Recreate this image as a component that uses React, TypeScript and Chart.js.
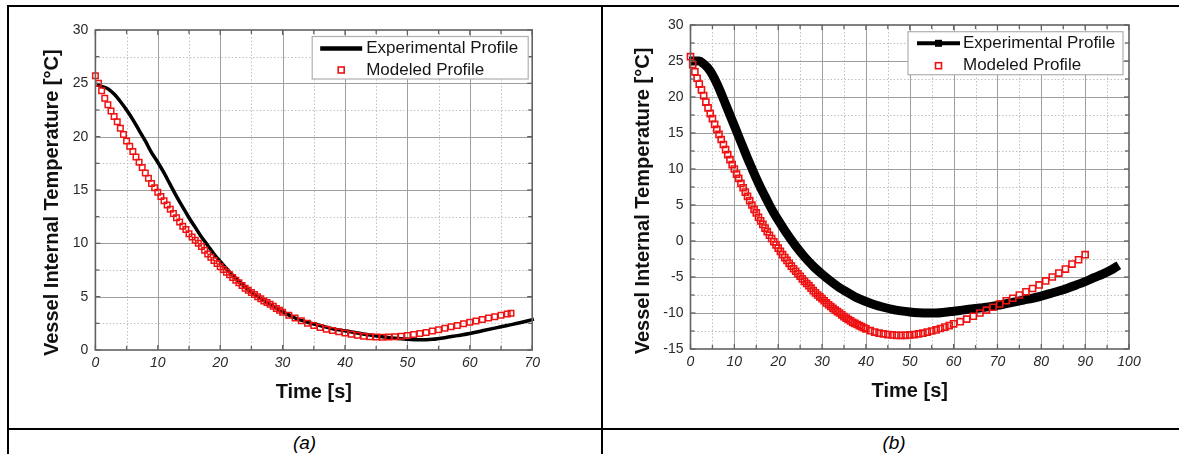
import React, { useEffect, useRef } from "react";
import { Chart, registerables } from "chart.js";

Chart.register(...registerables);

const FONT = "'Liberation Sans', Arial, Helvetica, sans-serif";
const RED = "#ee1212";

// ---------- Panel (a) ----------
const xTicksA = [0, 10, 20, 30, 40, 50, 60, 70];
const yTicksA = [0, 5, 10, 15, 20, 25, 30];

const expTimeA = [0.5, 2, 3, 4, 5, 6, 7, 8, 9, 10, 11, 12, 13, 14, 15, 16, 17, 18, 19, 20, 22, 24, 26, 28, 30, 32, 34, 36, 38, 40, 42, 44, 46, 48, 50, 52, 54, 56, 58, 60, 62, 64, 66, 68, 70];
const expTempA = [24.8, 24.5, 24.0, 23.3, 22.5, 21.6, 20.6, 19.6, 18.5, 17.6, 16.6, 15.5, 14.4, 13.4, 12.4, 11.5, 10.6, 9.8, 9.0, 8.3, 7.0, 5.9, 5.0, 4.3, 3.6, 3.0, 2.6, 2.3, 2.0, 1.8, 1.6, 1.4, 1.25, 1.1, 1.0, 0.95, 1.0, 1.15, 1.35, 1.55, 1.8, 2.05, 2.3, 2.55, 2.85];

const modTimeA = [0, 0.5, 1, 1.5, 2, 2.5, 3, 3.5, 4, 4.5, 5, 5.5, 6, 6.5, 7, 7.5, 8, 8.5, 9, 9.5, 10, 10.5, 11, 11.5, 12, 12.5, 13, 13.5, 14, 14.5, 15,
  15.5, 16, 16.5, 17, 17.5, 18, 18.5, 19, 19.5, 20, 20.5, 21, 21.5, 22, 22.5, 23, 23.5, 24, 24.5, 25, 25.5, 26, 26.5, 27, 27.5, 28, 28.5, 29, 29.5, 30,
  31, 32, 33, 34, 35, 36, 37, 38, 39, 40, 41, 42, 43, 44, 45, 46, 47, 48, 49, 50, 51, 52, 53, 54, 55, 56, 57, 58, 59, 60, 61, 62, 63, 64, 65, 66, 66.6];
const modTempA = [25.7, 25.0, 24.3, 23.6, 23.0, 22.4, 21.9, 21.4, 20.8, 20.2, 19.6, 19.1, 18.6, 18.1, 17.6, 17.1, 16.6, 16.1, 15.6, 15.2, 14.8, 14.4, 14.0, 13.6, 13.2, 12.8, 12.4, 12.0, 11.6, 11.3, 10.9,
  10.6, 10.3, 10.0, 9.7, 9.35, 9.0, 8.7, 8.4, 8.1, 7.8, 7.55, 7.3, 7.05, 6.8, 6.55, 6.3, 6.05, 5.8, 5.6, 5.4, 5.2, 5.0, 4.8, 4.6, 4.45, 4.3, 4.1, 3.9, 3.72, 3.55,
  3.25, 3.0, 2.75, 2.5, 2.3, 2.1, 1.95, 1.82, 1.7, 1.6, 1.48, 1.38, 1.3, 1.25, 1.22, 1.2, 1.22, 1.25, 1.3, 1.36, 1.45, 1.55, 1.65, 1.78, 1.9, 2.03, 2.17, 2.3, 2.45, 2.6, 2.72, 2.85, 3.0, 3.12, 3.25, 3.38, 3.45];

// ---------- Panel (b) ----------
const xTicksB = [0, 10, 20, 30, 40, 50, 60, 70, 80, 90, 100];
const yTicksB = [-15, -10, -5, 0, 5, 10, 15, 20, 25, 30];

const expTimeB = [0.7, 2, 3, 4, 5, 6, 7, 8, 9, 10, 11, 12, 13, 14, 15, 16, 17, 18, 19, 20, 22, 24, 26, 28, 30, 32, 34, 36, 38, 40, 42, 44, 46, 48, 50, 52, 54, 56, 58, 60, 62, 64, 66, 68, 70, 72, 74, 76, 78, 80, 82, 84, 86, 88, 90, 92, 94, 96, 96.8];
const expTempB = [25.0, 25.0, 24.6, 24.0, 23.1, 21.9, 20.5, 19.0, 17.5, 16.0, 14.5, 13.0, 11.5, 10.1, 8.7, 7.4, 6.2, 5.0, 3.9, 2.9, 1.0, -0.7, -2.2, -3.5, -4.6, -5.6, -6.5, -7.2, -7.9, -8.4, -8.85, -9.2, -9.5, -9.7, -9.85, -9.95, -10.0, -10.0, -9.9, -9.75, -9.6, -9.45, -9.3, -9.15, -8.95, -8.7, -8.45, -8.2, -7.95, -7.65, -7.3, -6.95, -6.55, -6.1, -5.65, -5.1, -4.6, -4.0, -3.7];

const modTimeB = [0, 0.5, 1, 1.5, 2, 2.5, 3, 3.5, 4, 4.5, 5, 5.5, 6, 6.5, 7, 7.5, 8, 8.5, 9, 9.5, 10, 10.5, 11, 11.5, 12, 12.5, 13, 13.5, 14, 14.5, 15, 15.5, 16, 16.5, 17, 17.5, 18, 18.5, 19, 19.5, 20,
  20.5, 21, 21.5, 22, 22.5, 23, 23.5, 24, 24.5, 25, 25.5, 26, 26.5, 27, 27.5, 28, 28.5, 29, 29.5, 30, 30.5, 31, 31.5, 32, 32.5, 33, 33.5, 34, 34.5, 35, 35.5, 36, 36.5, 37, 37.5, 38, 38.5, 39, 39.5, 40,
  41, 42, 43, 44, 45, 46, 47, 48, 49, 50, 51, 52, 53, 54, 55, 56, 57, 58, 59, 60,
  61.5, 63, 64.5, 66, 67.5, 69, 70.5, 72, 73.5, 75, 76.5, 78, 79.5, 81, 82.5, 84, 85.5, 87, 88.5, 90];
const modTempB = [25.6, 24.5, 23.5, 22.6, 21.8, 21.0, 20.2, 19.3, 18.5, 17.7, 17.0, 16.2, 15.5, 14.8, 14.1, 13.4, 12.7, 12.0, 11.3, 10.6, 10.0, 9.3, 8.7, 8.0, 7.4, 6.8, 6.2, 5.6, 5.0, 4.4, 3.9, 3.3, 2.8, 2.3, 1.8, 1.3, 0.8, 0.35, -0.1, -0.55, -1.0,
  -1.45, -1.9, -2.3, -2.7, -3.1, -3.5, -3.85, -4.2, -4.55, -4.9, -5.25, -5.6, -5.9, -6.2, -6.55, -6.9, -7.2, -7.5, -7.75, -8.0, -8.3, -8.6, -8.85, -9.1, -9.35, -9.6, -9.8, -10.0, -10.25, -10.5, -10.7, -10.9, -11.1, -11.3, -11.45, -11.6, -11.75, -11.9, -12.05, -12.2,
  -12.45, -12.65, -12.8, -12.9, -13.0, -13.05, -13.1, -13.1, -13.1, -13.05, -13.0, -12.9, -12.8, -12.65, -12.5, -12.35, -12.15, -11.95, -11.75, -11.5,
  -11.2, -10.85, -10.45, -10.0, -9.6, -9.2, -8.75, -8.3, -7.95, -7.5, -7.05, -6.6, -6.1, -5.55, -5.0, -4.45, -3.9, -3.2, -2.6, -1.9];

const seriesNames = ["Experimental Profile", "Modeled Profile"];
const xTitle = "Time [s]";
const yTitle = "Vessel Internal Temperature [°C]";

type PanelCfg = {
  left: number; top: number; width: number; height: number;
  padding: { left: number; right: number; top: number; bottom: number };
  xTicks: number[]; yTicks: number[];
  expTime: number[]; expTemp: number[]; modTime: number[]; modTemp: number[];
  expWidth: number; markerRadius: number; markerBorder: number;
  legendW: number; legendH: number; legendInsetRight: number; legendInsetTop: number;
  row1: number; row2: number; sampleX0: number; sampleX1: number; textX: number;
  legendLineWidth: number; legendMarker: boolean;
  yTitleDx: number; yTitleDy: number; yTickPad: number;
};

const toPts = (xs: number[], ys: number[]) => xs.map((x, i) => ({ x, y: ys[i] }));

function makeDecor(cfg: PanelCfg) {
  const line = (ctx: CanvasRenderingContext2D, x0: number, y0: number, x1: number, y1: number) => {
    ctx.beginPath(); ctx.moveTo(x0, y0); ctx.lineTo(x1, y1); ctx.stroke();
  };
  const minors = (vals: number[]) => vals.slice(1).map((v, i) => (v + vals[i]) / 2);
  return {
    id: "panelDecor",
    beforeDatasetsDraw(chart: any) {
      const { ctx, chartArea: ca } = chart;
      const xs = chart.scales.x, ys = chart.scales.y;
      const xv: number[] = xs.ticks.map((t: any) => t.value);
      const yv: number[] = ys.ticks.map((t: any) => t.value);
      ctx.save();
      ctx.lineWidth = 1;
      ctx.strokeStyle = "#c0c0c0";
      ctx.setLineDash([1.5, 2]);
      for (const v of minors(xv)) { const p = Math.round(xs.getPixelForValue(v)) + 0.5; line(ctx, p, ca.top, p, ca.bottom); }
      for (const v of minors(yv)) { const p = Math.round(ys.getPixelForValue(v)) + 0.5; line(ctx, ca.left, p, ca.right, p); }
      ctx.setLineDash([]);
      ctx.strokeStyle = "#9e9e9e";
      for (const v of xv.slice(1, -1)) { const p = Math.round(xs.getPixelForValue(v)) + 0.5; line(ctx, p, ca.top, p, ca.bottom); }
      for (const v of yv.slice(1, -1)) { const p = Math.round(ys.getPixelForValue(v)) + 0.5; line(ctx, ca.left, p, ca.right, p); }
      ctx.restore();
    },
    afterDatasetsDraw(chart: any) {
      const { ctx, chartArea: ca } = chart;
      const xs = chart.scales.x, ys = chart.scales.y;
      const xv: number[] = xs.ticks.map((t: any) => t.value);
      const yv: number[] = ys.ticks.map((t: any) => t.value);
      ctx.save();
      ctx.strokeStyle = "#626262";
      ctx.lineWidth = 1.6;
      ctx.strokeRect(ca.left, ca.top, ca.right - ca.left, ca.bottom - ca.top);
      ctx.lineWidth = 1.3;
      const tick = (vals: number[], len: number) => {
        for (const v of vals) {
          const px = xs.getPixelForValue(v);
          line(ctx, px, ca.bottom, px, ca.bottom - len);
          line(ctx, px, ca.top, px, ca.top + len);
        }
      };
      const tickY = (vals: number[], len: number) => {
        for (const v of vals) {
          const py = ys.getPixelForValue(v);
          line(ctx, ca.left, py, ca.left + len, py);
          line(ctx, ca.right, py, ca.right - len, py);
        }
      };
      tick(xv, 5); tick(minors(xv), 4);
      tickY(yv, 5); tickY(minors(yv), 4);

      const bx = ca.right - cfg.legendInsetRight - cfg.legendW;
      const by = ca.top + cfg.legendInsetTop;
      ctx.fillStyle = "#fff";
      ctx.fillRect(bx, by, cfg.legendW, cfg.legendH);
      ctx.strokeStyle = "#b0b0b0";
      ctx.lineWidth = 1.2;
      ctx.strokeRect(bx, by, cfg.legendW, cfg.legendH);
      const y1 = by + cfg.row1, y2 = by + cfg.row2;
      ctx.strokeStyle = "#000";
      ctx.lineWidth = cfg.legendLineWidth;
      line(ctx, bx + cfg.sampleX0, y1, bx + cfg.sampleX1, y1);
      const mx = bx + (cfg.sampleX0 + cfg.sampleX1) / 2;
      if (cfg.legendMarker) { ctx.fillStyle = "#000"; ctx.fillRect(mx - 3.5, y1 - 3.5, 7, 7); }
      ctx.strokeStyle = RED;
      ctx.lineWidth = 1.6;
      ctx.strokeRect(mx - 3, y2 - 3, 6, 6);
      ctx.fillStyle = "#161616";
      ctx.font = `17px ${FONT}`;
      ctx.textAlign = "left";
      ctx.textBaseline = "middle";
      ctx.fillText(chart.data.datasets[1].label, bx + cfg.textX, y1);
      ctx.fillText(chart.data.datasets[0].label, bx + cfg.textX, y2);

      ctx.fillStyle = "#111";
      ctx.font = `bold 20px ${FONT}`;
      ctx.textAlign = "center";
      ctx.fillText(xTitle, (ca.left + ca.right) / 2, ca.bottom + 42);
      ctx.translate(ca.left - cfg.yTitleDx, (ca.top + ca.bottom) / 2 + cfg.yTitleDy);
      ctx.rotate(-Math.PI / 2);
      ctx.fillText(yTitle, 0, 0);
      ctx.restore();
    },
  };
}

function Panel({ cfg }: { cfg: PanelCfg }) {
  const ref = useRef<HTMLCanvasElement>(null);
  useEffect(() => {
    if (!ref.current) return;
    const chart = new Chart(ref.current, {
      type: "scatter",
      data: {
        datasets: [
          {
            label: seriesNames[1],
            data: toPts(cfg.modTime, cfg.modTemp),
            showLine: false,
            pointStyle: "rect",
            pointRadius: cfg.markerRadius,
            pointBorderWidth: cfg.markerBorder,
            borderColor: RED,
            backgroundColor: "rgba(255,255,255,0)",
            clip: false,
          } as any,
          {
            label: seriesNames[0],
            data: toPts(cfg.expTime, cfg.expTemp),
            showLine: true,
            pointRadius: 0,
            borderColor: "#000",
            backgroundColor: "#000",
            borderWidth: cfg.expWidth,
            cubicInterpolationMode: "monotone",
            borderJoinStyle: "round",
            borderCapStyle: "square",
            clip: false,
          } as any,
        ],
      },
      options: {
        animation: false,
        responsive: false,
        devicePixelRatio: 1,
        layout: { padding: cfg.padding },
        plugins: { legend: { display: false }, tooltip: { enabled: false } },
        scales: {
          x: {
            type: "linear",
            min: cfg.xTicks[0],
            max: cfg.xTicks[cfg.xTicks.length - 1],
            afterBuildTicks: (s: any) => { s.ticks = cfg.xTicks.map((v) => ({ value: v })); },
            afterFit: (s: any) => { s.height = 50; },
            grid: { display: false, drawTicks: false },
            border: { display: false },
            ticks: { padding: 5, maxRotation: 0, autoSkip: false, color: "#2a2a2a", font: { family: FONT, size: 14, style: "italic" } },
          },
          y: {
            type: "linear",
            min: cfg.yTicks[0],
            max: cfg.yTicks[cfg.yTicks.length - 1],
            afterBuildTicks: (s: any) => { s.ticks = cfg.yTicks.map((v) => ({ value: v })); },
            afterFit: (s: any) => { s.width = 60; },
            grid: { display: false, drawTicks: false },
            border: { display: false },
            ticks: { padding: cfg.yTickPad, autoSkip: false, color: "#2a2a2a", font: { family: FONT, size: 14 } },
          },
        },
      } as any,
      plugins: [makeDecor(cfg)],
    });
    return () => chart.destroy();
  }, []);
  return (
    <canvas
      ref={ref}
      width={cfg.width}
      height={cfg.height}
      style={{ position: "absolute", left: cfg.left, top: cfg.top, width: cfg.width, height: cfg.height }}
    />
  );
}

const panelA: PanelCfg = {
  left: 9, top: 8, width: 591, height: 419,
  padding: { left: 26.4, right: 67.8, top: 22, bottom: 27 },
  xTicks: xTicksA, yTicks: yTicksA,
  expTime: expTimeA, expTemp: expTempA, modTime: modTimeA, modTemp: modTempA,
  expWidth: 3.5, markerRadius: 3.9, markerBorder: 1.5,
  legendW: 216, legendH: 42.5, legendInsetRight: 4, legendInsetTop: 6.5,
  row1: 12, row2: 33.5, sampleX0: 8, sampleX1: 50, textX: 54,
  legendLineWidth: 4.5, legendMarker: false,
  yTitleDx: 43, yTitleDy: 12.7, yTickPad: 7,
};

const panelB: PanelCfg = {
  left: 603, top: 8, width: 576, height: 419,
  padding: { left: 27.5, right: 50, top: 17, bottom: 28 },
  xTicks: xTicksB, yTicks: yTicksB,
  expTime: expTimeB, expTemp: expTempB, modTime: modTimeB, modTemp: modTempB,
  expWidth: 9, markerRadius: 4.3, markerBorder: 1.6,
  legendW: 215, legendH: 43, legendInsetRight: 6, legendInsetTop: 6.7,
  row1: 11.6, row2: 34, sampleX0: 9, sampleX1: 52, textX: 55,
  legendLineWidth: 4, legendMarker: true,
  yTitleDx: 47, yTitleDy: 14, yTickPad: 7,
};

const rule = (s: React.CSSProperties) => <div style={{ position: "absolute", background: "#000", ...s }} />;

export default function App() {
  return (
    <div style={{ position: "absolute", left: 0, top: 0, width: 1179, height: 454, background: "#fff", overflow: "hidden" }}>
      {rule({ left: 7, top: 5, width: 1172, height: 1.5 })}
      {rule({ left: 7, top: 5, width: 2, height: 449 })}
      {rule({ left: 600.7, top: 5, width: 2, height: 449 })}
      {rule({ left: 7, top: 428.3, width: 1172, height: 2 })}
      <Panel cfg={panelA} />
      <Panel cfg={panelB} />
      <div style={{ position: "absolute", left: 8, width: 593, top: 431, textAlign: "center", fontFamily: FONT, fontStyle: "italic", fontSize: 19, lineHeight: "24px" }}>(a)</div>
      <div style={{ position: "absolute", left: 603, width: 582, top: 431, textAlign: "center", fontFamily: FONT, fontStyle: "italic", fontSize: 19, lineHeight: "24px" }}>(b)</div>
    </div>
  );
}
